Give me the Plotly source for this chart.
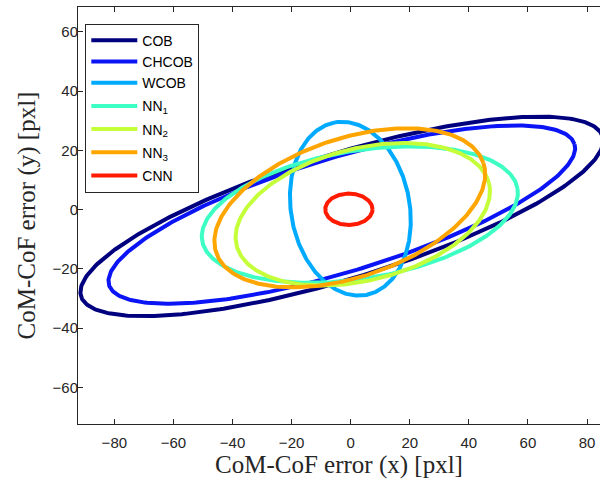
import numpy as np
import plotly.graph_objects as go

# Ellipse parameters
names = ["COB", "CHCOB", "WCOB", "NN<sub>1</sub>", "NN<sub>2</sub>", "NN<sub>3</sub>", "CNN"]
legend_groups = ["a", "a", "a", "b", "c", "d", "e"]
center_x = [-3.0, -3.0, -0.1, 3.1, 4.1, -0.3, -0.6]
center_y = [-2.3, -1.7, 0.3, -1.7, -1.6, 0.6, 0.1]
semi_major = [92.3, 82.3, 29.6, 54.1, 44.0, 47.7, 8.0]
semi_minor = [21.1, 19.3, 20.1, 21.6, 22.3, 23.4, 5.3]
angle_deg = [17.0, 16.8, 100.1, 9.3, 13.8, 18.5, 0.0]
colors = ["#00007F", "#0A14F5", "#00AAFF", "#3DFFC4", "#C4FF3A", "#FFA500", "#FF1A00"]

x_range = [-92.3, 84.4]
y_range = [-72.4, 68.4]
x_ticks = [-80, -60, -40, -20, 0, 20, 40, 60, 80]
y_ticks = [-60, -40, -20, 0, 20, 40, 60]

t = np.linspace(0, 2 * np.pi, 400)
fig = go.Figure()
for n, g, cx, cy, a, b, ang, c in zip(names, legend_groups, center_x, center_y, semi_major,
                                      semi_minor, angle_deg, colors):
    th = np.deg2rad(ang)
    ex = a * np.cos(t)
    ey = b * np.sin(t)
    xs = cx + ex * np.cos(th) - ey * np.sin(th)
    ys = cy + ex * np.sin(th) + ey * np.cos(th)
    fig.add_trace(go.Scatter(x=xs, y=ys, mode="lines", name=n, legendgroup=g,
                             line=dict(color=c, width=4)))

tickfont = dict(family="Liberation Sans, Arial", size=15, color="#262626")
titlefont = dict(family="Liberation Serif, Times New Roman", size=25, color="#262626")
axis_common = dict(showgrid=False, zeroline=False, showline=True, linecolor="#262626",
                   linewidth=1, ticks="inside", ticklen=5, tickcolor="#262626",
                   tickfont=tickfont)
fig.update_xaxes(range=x_range, tickvals=x_ticks, mirror="ticks", ticklabelstandoff=5,
                 title=dict(text="CoM-CoF error (x) [pxl]", font=titlefont, standoff=4),
                 **axis_common)
fig.update_yaxes(range=y_range, tickvals=y_ticks, mirror=False, ticklabelstandoff=-4,
                 title=dict(text="CoM-CoF error (y) [pxl]", font=titlefont, standoff=9),
                 **axis_common)
fig.update_layout(
    width=600, height=487,
    margin=dict(l=78, r=0, t=7, b=63),
    paper_bgcolor="white", plot_bgcolor="white",
    showlegend=True,
    legend=dict(x=0.014, y=0.96, xanchor="left", yanchor="top",
                bgcolor="white", bordercolor="#262626", borderwidth=1,
                font=dict(family="Liberation Sans, Arial", size=14, color="#000000"),
                tracegroupgap=2, itemwidth=46),
)
fig.write_html("out.html")
